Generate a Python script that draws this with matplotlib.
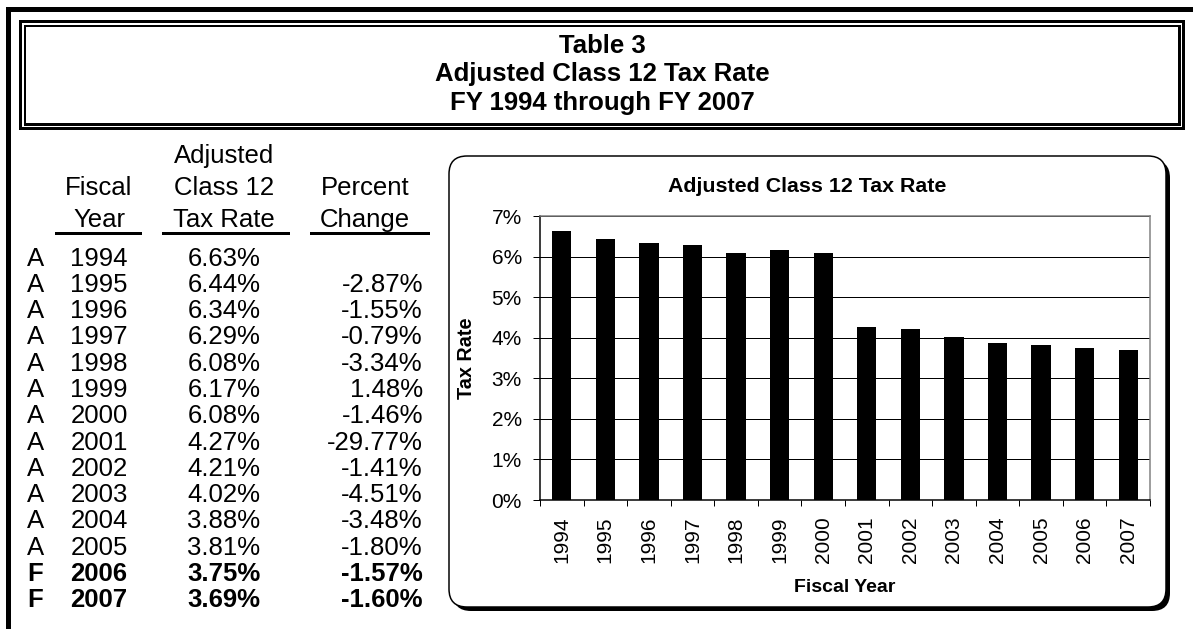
import matplotlib
matplotlib.use('Agg')
import matplotlib.pyplot as plt
from matplotlib.patches import Rectangle, FancyBboxPatch
import numpy as np

plt.rcParams['font.family'] = ['Liberation Sans', 'DejaVu Sans']

# ---------------- data ----------------
title_lines = ["Table 3", "Adjusted Class 12 Tax Rate", "FY 1994 through FY 2007"]
status = ['A', 'A', 'A', 'A', 'A', 'A', 'A', 'A', 'A', 'A', 'A', 'A', 'F', 'F']
years = [1994, 1995, 1996, 1997, 1998, 1999, 2000, 2001, 2002, 2003, 2004, 2005, 2006, 2007]
rates = [6.63, 6.44, 6.34, 6.29, 6.08, 6.17, 6.08, 4.27, 4.21, 4.02, 3.88, 3.81, 3.75, 3.69]
pct_change = [None, -2.87, -1.55, -0.79, -3.34, 1.48, -1.46, -29.77, -1.41, -4.51,
              -3.48, -1.80, -1.57, -1.60]
y_ticks = [0, 1, 2, 3, 4, 5, 6, 7]
chart_title = "Adjusted Class 12 Tax Rate"
x_title = "Fiscal Year"
y_title = "Tax Rate"

# ---------------- layout ----------------
W, H = 1193, 629
PX = 0.72  # points per pixel at 100 dpi

fig = plt.figure(figsize=(W / 100, H / 100), dpi=100)
ov = fig.add_axes([0, 0, 1, 1], zorder=0)
ov.set_xlim(0, W)
ov.set_ylim(H, 0)
ov.axis('off')

def frect(x0, y0, x1, y1, color):
    ov.add_patch(Rectangle((x0, y0), x1 - x0, y1 - y0, facecolor=color,
                           edgecolor='none', lw=0))

# outer frame (top and left thick lines)
frect(6, 7, W, 12, 'black')
frect(6, 7, 11, H, 'black')

# title box with double border
frect(19, 20, 1185, 130, 'black')
frect(22, 23, 1182, 127, 'white')
frect(23.5, 24.5, 1180.5, 125.5, 'black')
frect(26, 27, 1178, 123, 'white')

tkw = dict(ha='center', va='baseline', fontsize=18.5, fontweight='bold')
for line, yb in zip(title_lines, [53, 81.5, 110]):
    ov.text(602, yb, line, **tkw)

# table headers
hfs = 18.5
xc_year, xc_rate, xc_pct, xr_pct, x_stat = 99, 224, 365, 423, 27
ov.text(xc_rate, 163, "Adjusted", ha='center', va='baseline', fontsize=hfs)
ov.text(xc_year, 195, "Fiscal", ha='center', va='baseline', fontsize=hfs)
ov.text(xc_rate, 195, "Class 12", ha='center', va='baseline', fontsize=hfs)
ov.text(xc_pct, 195, "Percent", ha='center', va='baseline', fontsize=hfs)
ov.text(xc_year, 227, "Year", ha='center', va='baseline', fontsize=hfs)
ov.text(xc_rate, 227, "Tax Rate", ha='center', va='baseline', fontsize=hfs)
ov.text(xc_pct, 227, "Change", ha='center', va='baseline', fontsize=hfs)
for x0, x1 in [(55, 142), (162, 290), (310, 430)]:
    frect(x0, 231.5, x1, 234.5, 'black')

# table rows
for i, (s, yr, r, pc) in enumerate(zip(status, years, rates, pct_change)):
    yb = 265.5 + 26.3 * i
    fw = 'bold' if s == 'F' else 'normal'
    ov.text(x_stat, yb, s, ha='left', va='baseline', fontsize=hfs, fontweight=fw)
    ov.text(xc_year, yb, str(yr), ha='center', va='baseline', fontsize=hfs, fontweight=fw)
    ov.text(xc_rate, yb, f"{r:.2f}%", ha='center', va='baseline', fontsize=hfs, fontweight=fw)
    if pc is not None:
        ov.text(xr_pct, yb, f"{pc:.2f}%", ha='right', va='baseline', fontsize=hfs, fontweight=fw)

# chart box (rounded, with shadow on right/bottom)
ov.add_patch(FancyBboxPatch((453, 160), 1170 - 453, 611 - 160,
                            boxstyle="round,pad=0,rounding_size=18",
                            facecolor='black', edgecolor='black', lw=0))
ov.add_patch(FancyBboxPatch((449, 156), 1166 - 449, 607 - 156,
                            boxstyle="round,pad=0,rounding_size=18",
                            facecolor='white', edgecolor='black', lw=1.5 * PX))
ov.text(807, 191.5, chart_title, ha='center', va='baseline', fontsize=15.4, fontweight='bold')

# ---------------- chart ----------------
ax_l, ax_r, ax_t, ax_b = 540, 1150, 216, 500
ax = fig.add_axes([ax_l / W, (H - ax_b) / H, (ax_r - ax_l) / W, (ax_b - ax_t) / H], zorder=1)
ax.set_facecolor('white')
x = np.arange(len(years))
ax.bar(x, rates, width=0.44, color='black', zorder=2)
ax.set_xlim(-0.5, len(years) - 0.5)
ax.set_ylim(y_ticks[0], y_ticks[-1])
ax.set_yticks(y_ticks)
ax.set_yticklabels([f"{v}%" for v in y_ticks], fontsize=15)
ax.yaxis.grid(True, color='black', lw=1 * PX)
ax.set_axisbelow(True)
ax.tick_params(axis='y', length=7 * PX, width=1 * PX, pad=8, direction='out')

ax.set_xticks(x)
ax.set_xticklabels([str(y) for y in years], rotation=90, fontsize=15)
ax.tick_params(axis='x', which='major', length=0, pad=12)
ax.set_xticks(np.arange(-0.5, len(years), 1), minor=True)
ax.tick_params(axis='x', which='minor', length=6 * PX, width=1 * PX, direction='out')

for side in ['top', 'right']:
    ax.spines[side].set_color('#808080')
    ax.spines[side].set_linewidth(1.5 * PX)
for side in ['left', 'bottom']:
    ax.spines[side].set_color('black')
    ax.spines[side].set_linewidth(1.5 * PX)

ax.set_ylabel(y_title, fontsize=14.3, fontweight='bold', va='center')
ax.yaxis.set_label_coords((467 - ax_l) / (ax_r - ax_l), 0.5)
ax.set_xlabel(x_title, fontsize=14, fontweight='bold', va='baseline')
ax.xaxis.set_label_coords(0.5, (ax_b - 592) / (ax_b - ax_t))

fig.savefig('out.png', dpi=100)
